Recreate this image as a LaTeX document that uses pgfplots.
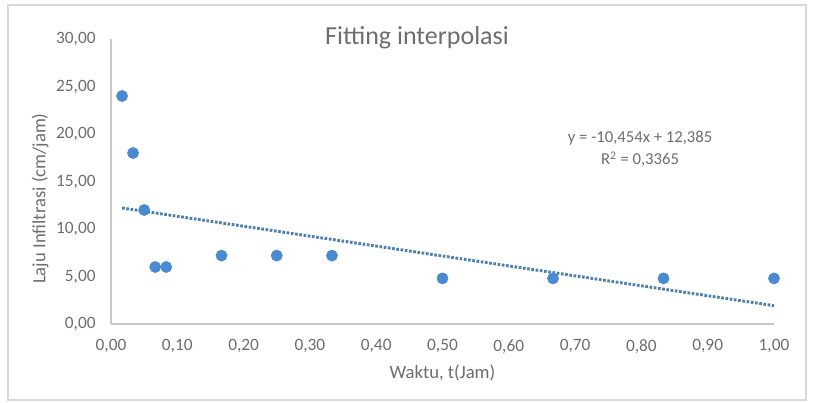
\documentclass[border=0pt]{standalone}
\usepackage{pgfplots}
\pgfplotsset{compat=1.18}
\usepackage{fontspec}
\setmainfont{Carlito}
\definecolor{ptblue}{RGB}{74,138,208}
\definecolor{trend}{RGB}{78,128,172}
\definecolor{txtgray}{RGB}{110,110,110}
\definecolor{axgray}{RGB}{200,200,200}
\definecolor{framegray}{RGB}{217,217,217}
\begin{document}
\begin{tikzpicture}[x=1pt,y=1pt]
\fill[white] (-83.25,-59.25) rectangle (527.25,243);
\draw[color=framegray, line width=1pt] (-77.25,-57) rectangle (521.25,239.25);
\begin{axis}[
  at={(0,0)}, anchor=south west,
  scale only axis, width=497.25pt, height=213.75pt,
  xmin=0, xmax=1, ymin=0, ymax=30,
  axis x line*=bottom, axis y line*=left,
  axis line style={draw=axgray, line width=1.1pt, -},
  xtick={0,0.1,...,1.01}, ytick={0,5,...,30},
  major tick length=0pt,
  xticklabel style={text=txtgray, font=\fontsize{13}{15}\selectfont, yshift=-8pt},
  yticklabel style={text=txtgray, font=\fontsize{13}{15}\selectfont, xshift=-8pt},
  /pgf/number format/.cd, fixed, fixed zerofill, precision=2, use comma, assume math mode=true,
  /pgfplots/.cd,
  xlabel={Waktu, t(Jam)},
  ylabel={Laju Infiltrasi (cm/jam)},
  xlabel style={text=txtgray, font=\fontsize{14}{16}\selectfont, at={(axis description cs:0.5,0)}, anchor=center, yshift=-37pt},
  ylabel style={text=txtgray, font=\fontsize{14}{16}\selectfont, at={(axis description cs:-0.107,0.44)}, anchor=center},
  clip=false,
]
\addplot[trend, line width=2.2pt, dash pattern=on 2pt off 1.2pt] coordinates {(0.0167,12.21) (1,1.931)};
\addplot[only marks, mark=*, mark size=4.2pt, mark options={draw=ptblue, fill=ptblue}] coordinates {
(0.0167,24) (0.0333,18) (0.05,12) (0.0667,6) (0.0833,6) (0.1667,7.2) (0.25,7.2) (0.3333,7.2) (0.5,4.8) (0.6667,4.8) (0.8333,4.8) (1,4.8)};
\node[text=txtgray, font=\fontsize{12.5}{16.5}\selectfont, align=center] at (axis cs:0.798,18.4) {y = -10,454x + 12,385\\R\textsuperscript{2} = 0,3365};
\end{axis}
\node[text=txtgray, font=\fontsize{19.5}{22}\selectfont] at (229.5,214.5) {Fitting interpolasi};
\end{tikzpicture}
\end{document}
